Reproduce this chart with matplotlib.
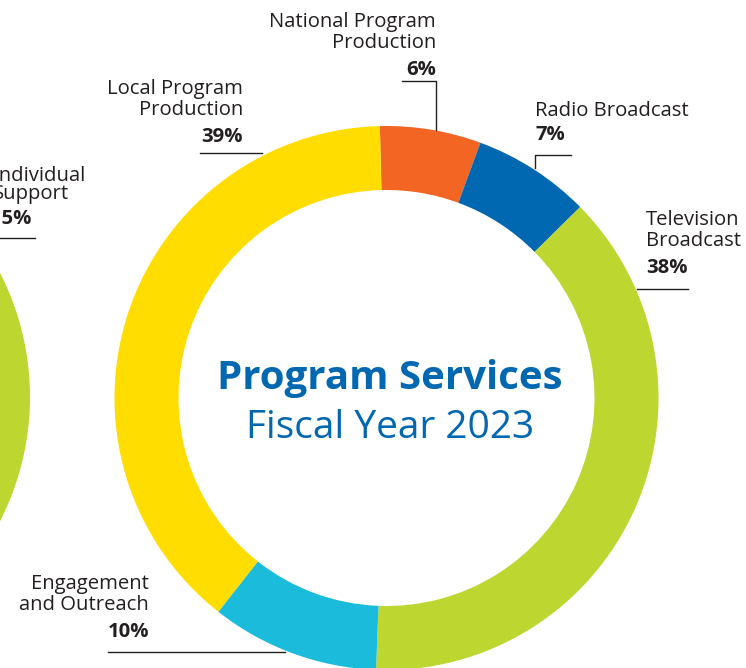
import matplotlib.pyplot as plt

# program services fiscal year 2023
categories = ['National Program\nProduction', 'Radio Broadcast', 'Television\nBroadcast',
              'Engagement\nand Outreach', 'Local Program\nProduction']
shares = [6, 7, 38, 10, 39]
colors = ['#F26522', '#0067B1', '#BDD630', '#1BBCDB', '#FFDD00']

# neighbouring chart, only its right edge shows
left_categories = ['Individual\nSupport', 'Other']
left_shares = [15, 85]
left_colors = ['#FFDD00', '#BDD630']

W, H = 746, 668
def py(y):
    return H - y

plt.rcParams['font.family'] = ['Open Sans', 'DejaVu Sans']

fig = plt.figure(figsize=(W / 100, H / 100), dpi=100)
ax = fig.add_axes([0, 0, 1, 1])

ax.pie(shares, colors=colors, startangle=91.4, counterclock=False,
       center=(386.5, py(398)), radius=272,
       wedgeprops=dict(width=64, linewidth=0))
ax.pie(left_shares, colors=left_colors, startangle=90, counterclock=False,
       center=(-242, py(397)), radius=272,
       wedgeprops=dict(width=64, linewidth=0))

ax.set_xlim(0, W)
ax.set_ylim(0, H)
ax.set_aspect('equal')
ax.axis('off')

# labels: (x, top y, alignment), leader line points
fs = 14.6
step = 24
lab = [
    (436, 12, 'right', [(402, 81), (436, 81), (436, 130)]),
    (535, 101, 'left', [(571, 155), (535, 155), (535, 168)]),
    (646, 210, 'left', [(637, 289), (688, 289)]),
    (149, 574, 'right', [(108, 652), (285, 652)]),
    (243, 79, 'right', [(200, 153), (262, 153)]),
]
for name, pct, (x, y, ha, pts) in zip(categories, shares, lab):
    nlines = name.count('\n') + 1
    ax.text(x, py(y), name, ha=ha, va='top', fontsize=fs, color='#231F20',
            linespacing=1.08)
    ax.text(x, py(y + nlines * step), f'{pct}%', ha=ha, va='top', fontsize=fs,
            fontweight='bold', color='#231F20')
    ax.plot([p[0] for p in pts], [py(p[1]) for p in pts], color='#231F20', lw=1)

# cut off label of the neighbouring chart
ax.text(-7, py(166), left_categories[0], ha='left', va='top', fontsize=fs,
        color='#231F20', linespacing=0.85)
ax.text(-9, py(209), f'{left_shares[0]}%', ha='left', va='top', fontsize=fs,
        fontweight='bold', color='#231F20')
ax.plot([0, 35], [py(238), py(238)], color='#231F20', lw=1)

ax.text(390, py(378), 'Program Services', ha='center', va='center', fontsize=29,
        fontweight='bold', color='#0067B1')
ax.text(390, py(428), 'Fiscal Year 2023', ha='center', va='center', fontsize=28,
        color='#0067B1')

fig.savefig('out.png', dpi=100)
